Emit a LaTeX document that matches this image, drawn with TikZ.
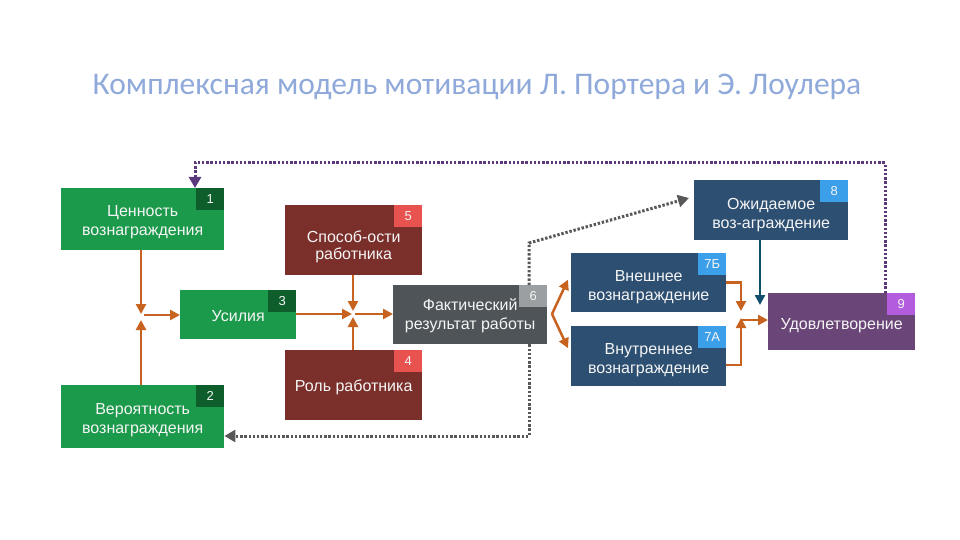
\documentclass[tikz,border=0pt]{standalone}
\usepackage{fontspec}
\setmainfont{Liberation Sans}
\newfontfamily\titlefont{Carlito}
\usetikzlibrary{arrows.meta,calc}
\definecolor{cgreen}{HTML}{1C9A4C}
\definecolor{cgreenb}{HTML}{0D5E2B}
\definecolor{cbrown}{HTML}{7A2F2A}
\definecolor{cbrownb}{HTML}{E9534F}
\definecolor{cgray}{HTML}{4E5458}
\definecolor{cgrayb}{HTML}{9B9FA2}
\definecolor{cblue}{HTML}{2D4F72}
\definecolor{cblueb}{HTML}{3C9FEA}
\definecolor{cpurple}{HTML}{6A4578}
\definecolor{cpurpleb}{HTML}{B35CDD}
\definecolor{corange}{HTML}{C8621F}
\definecolor{cteal}{HTML}{10506E}
\definecolor{cdotp}{HTML}{5A3A7C}
\definecolor{cdotg}{HTML}{58585A}
\definecolor{ctitle}{HTML}{8FA9DA}
\newcommand\lift[1]{\rule{0pt}{#1}}
\tikzset{
  box/.style={anchor=north west, inner sep=0pt, text=white!92!gray, align=center,
    font=\fontsize{16}{19}\selectfont},
  badge/.style={anchor=north east, inner sep=0pt, minimum width=28pt, minimum height=22pt,
    text=white!92!gray, font=\fontsize{13}{15}\selectfont},
  oarr/.style={draw=corange, line width=2.5pt, -{Triangle[length=10pt,width=10pt]}},
  tarr/.style={draw=cteal, line width=2.5pt, -{Triangle[length=10pt,width=10pt]}},
  pdot/.style={draw=cdotp, line width=3pt, dash pattern=on 2.4pt off 1.8pt, -{Triangle[length=11pt,width=12pt]}},
  gdot/.style={draw=cdotg, line width=3pt, dash pattern=on 2.4pt off 1.8pt, -{Triangle[length=11pt,width=12pt]}},
}
\begin{document}
\begin{tikzpicture}[x=1pt,y=-1pt]
\useasboundingbox (0,0) rectangle (960,540);
\fill[white] (0,0) rectangle (960,540);
\node[font=\titlefont\fontsize{31.5}{34}\selectfont, text=ctitle] (title) at (477,87) {Комплексная модель мотивации Л. Портера и Э. Лоулера};
% boxes
\node[box, fill=cgreen, minimum width=163pt, minimum height=62pt] (b1) at (61,188) {\lift{17pt}Ценность\\вознаграждения};
\node[badge, fill=cgreenb] (n1) at (b1.north east) {1};
\node[box, fill=cgreen, minimum width=163pt, minimum height=63pt] (b2) at (61,385) {\lift{18pt}Вероятность\\вознаграждения};
\node[badge, fill=cgreenb] (n2) at (b2.north east) {2};
\node[box, fill=cgreen, minimum width=116pt, minimum height=49pt] (b3) at (180,290) {\lift{14pt}Усилия};
\node[badge, fill=cgreenb] (n3) at (b3.north east) {3};
\node[box, fill=cbrown, minimum width=137pt, minimum height=70pt, font=\fontsize{16}{17}\selectfont] (b5) at (285,205) {\lift{24pt}Способ-ости\\работника};
\node[badge, fill=cbrownb] (n5) at (b5.north east) {5};
\node[box, fill=cbrown, minimum width=137pt, minimum height=70pt] (b4) at (285,350) {\lift{16pt}Роль работника};
\node[badge, fill=cbrownb] (n4) at (b4.north east) {4};
\node[box, fill=cgray, minimum width=154pt, minimum height=59pt] (b6) at (393,285) {\lift{14pt}Фактический\\результат работы};
\node[badge, fill=cgrayb] (n6) at (b6.north east) {6};
\node[box, fill=cblue, minimum width=155pt, minimum height=59pt] (b7b) at (571,253) {\lift{19pt}Внешнее\\вознаграждение};
\node[badge, fill=cblueb] (n7b) at (b7b.north east) {7Б};
\node[box, fill=cblue, minimum width=155pt, minimum height=60pt] (b7a) at (571,326) {\lift{19pt}Внутреннее\\вознаграждение};
\node[badge, fill=cblueb] (n7a) at (b7a.north east) {7А};
\node[box, fill=cblue, minimum width=154pt, minimum height=60pt] (b8) at (694,180) {\lift{20pt}Ожидаемое\\воз-аграждение};
\node[badge, fill=cblueb] (n8) at (b8.north east) {8};
\node[box, fill=cpurple, minimum width=147pt, minimum height=57pt] (b9) at (768,293) {\lift{18pt}Удовлетворение};
\node[badge, fill=cpurpleb] (n9) at (b9.north east) {9};
% junction coordinates
\coordinate (j1) at (141,317);
\coordinate (j2) at (353,314);
\coordinate (j3) at (552,314);
\coordinate (j4) at (741,320);
\coordinate (p1) at (885,163);
\coordinate (p2) at (195,163);
\coordinate (g1) at (529,243);
\coordinate (g2) at (529,436);
\coordinate (g3) at (689,198);
% orange connectors
\draw[oarr] (b1.south -| j1) -- ($(j1)+(0,-3)$);
\draw[oarr] (b2.north -| j1) -- ($(j1)+(0,3)$);
\draw[oarr] ($(j1)+(3,-2)$) -- (b3.west |- {(0,315)});
\draw[oarr] (b3.east |- j2) -- ($(j2)+(-1,0)$);
\draw[oarr] (b5.south -| j2) -- ($(j2)+(0,-3)$);
\draw[oarr] (b4.north -| j2) -- ($(j2)+(0,3)$);
\draw[oarr] ($(j2)+(2,0)$) -- (b6.west |- j2);
\draw[oarr] (j3) -- ($(b7b.west)+(-3,-3)$);
\draw[oarr] (j3) -- ($(b7a.west)+(-3,-8)$);
\draw[oarr] (b7b.east) -| ($(j4)+(0,-9)$);
\draw[oarr] ($(b7a.east)+(0,9)$) -| ($(j4)+(0,-2)$);
\draw[oarr] (j4) -- (b9.west |- j4);
\draw[tarr] (b8.south -| {(760,0)}) -- (760,305);
% dotted feedback
\draw[pdot] (b9.north -| p1) -- (p1) -- (p2) -- (b1.north -| p2);
\draw[gdot] (b6.north -| g1) -- (g1) -- (g3);
\draw[gdot] (b6.south -| g2) -- (g2) -- (b2.east |- g2);
\end{tikzpicture}
\end{document}
